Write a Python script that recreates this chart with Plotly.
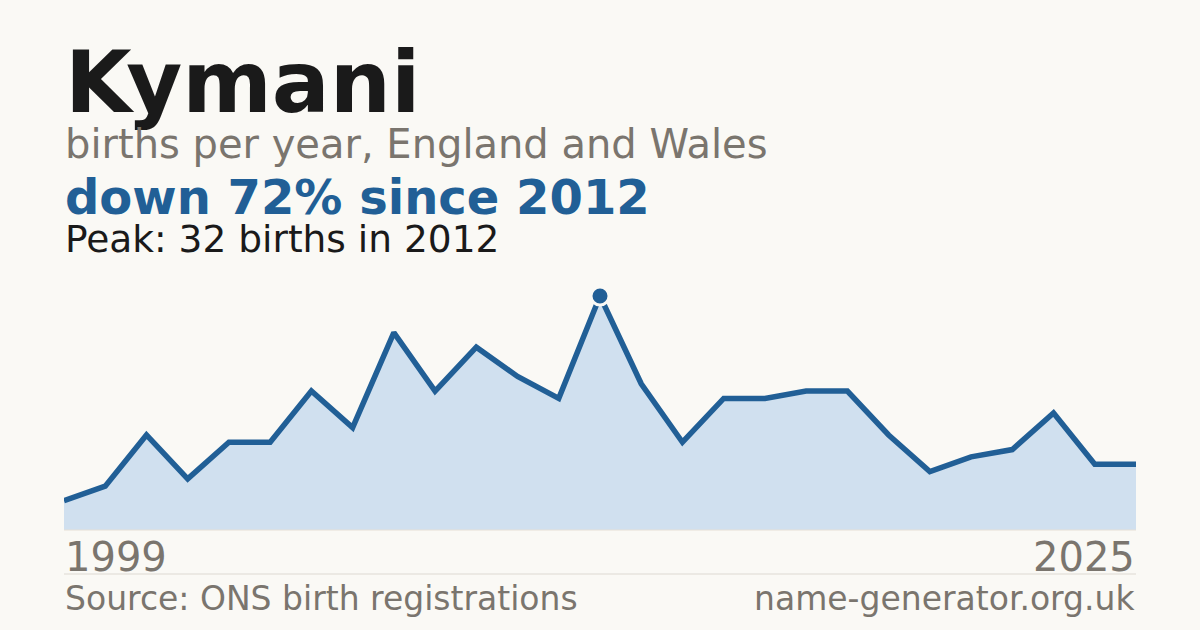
import plotly.graph_objects as go

years = list(range(1999, 2026))
births = [4, 6, 13, 7, 12, 12, 19, 14, 27, 19, 25, 21, 18, 32, 20, 12, 18, 18, 19, 19, 13, 8, 10, 11, 16, 9, 9]

title = "Kymani"
subtitle = "births per year, England and Wales"
headline = "down 72% since 2012"
peak_text = "Peak: 32 births in 2012"
source_text = "Source: ONS birth registrations"
site_text = "name-generator.org.uk"

W, H = 1200, 630
BG = "#FAF9F5"
BLUE = "#215F96"
FILL = "#D0E0EF"
GREY = "#7A756E"
DARK = "#1A1A1A"
FONT = "DejaVu Sans"

def px_y(p):
    return (H - p) / H

def px_x(p):
    return p / W

left, right = 64, 1136
bottom_px, top_px = 530, 280
peak_val = max(births)
peak_year = years[births.index(peak_val)]
ymax = peak_val * (bottom_px - top_px) / (bottom_px - 296)

fig = go.Figure()
fig.add_trace(go.Scatter(
    x=years, y=births, mode="lines",
    line=dict(color=BLUE, width=5.5),
    fill="tozeroy", fillcolor=FILL,
    hoverinfo="skip", showlegend=False,
))
fig.add_trace(go.Scatter(
    x=[peak_year], y=[peak_val], mode="markers",
    marker=dict(color=BLUE, size=18, line=dict(color=BG, width=3)),
    hoverinfo="skip", showlegend=False, cliponaxis=False,
))

fig.update_layout(
    width=W, height=H,
    paper_bgcolor=BG, plot_bgcolor=BG,
    margin=dict(l=0, r=0, t=0, b=0),
    xaxis=dict(domain=[px_x(left), px_x(right)], range=[years[0], years[-1]],
               visible=False, fixedrange=True),
    yaxis=dict(domain=[px_y(bottom_px), px_y(top_px)], range=[0, ymax],
               visible=False, fixedrange=True),
    showlegend=False,
)

anns = [
    (title, px_x(left), px_y(82), "left", dict(family=FONT, size=86, color=DARK), True),
    (subtitle, px_x(left), px_y(144), "left", dict(family=FONT, size=40, color=GREY), False),
    (headline, px_x(left), px_y(197), "left", dict(family=FONT, size=48, color=BLUE), True),
    (peak_text, px_x(left), px_y(239), "left", dict(family=FONT, size=37.5, color=DARK), False),
    (str(years[0]), px_x(left), px_y(557), "left", dict(family=FONT, size=40, color=GREY), False),
    (str(years[-1]), px_x(right), px_y(557), "right", dict(family=FONT, size=40, color=GREY), False),
    (source_text, px_x(left), px_y(598), "left", dict(family=FONT, size=33, color=GREY), False),
    (site_text, px_x(right), px_y(598), "right", dict(family=FONT, size=33, color=GREY), False),
]
for text, x, y, anchor, font, bold in anns:
    fig.add_annotation(
        text=f"<b>{text}</b>" if bold else text,
        x=x, y=y, xref="paper", yref="paper",
        xanchor=anchor, yanchor="middle", showarrow=False,
        font=font, borderpad=0,
    )

fig.add_shape(type="line", xref="paper", yref="paper",
              x0=px_x(left), x1=px_x(right), y0=px_y(bottom_px), y1=px_y(bottom_px),
              line=dict(color="#E6E0D6", width=1))
fig.add_shape(type="line", xref="paper", yref="paper",
              x0=px_x(left), x1=px_x(right), y0=px_y(574), y1=px_y(574),
              line=dict(color="#DDD9D2", width=1))

fig.write_html("out.html", config=dict(displayModeBar=False, staticPlot=True),
               post_script="document.body.style.margin='0';document.body.style.background='%s';" % BG)
